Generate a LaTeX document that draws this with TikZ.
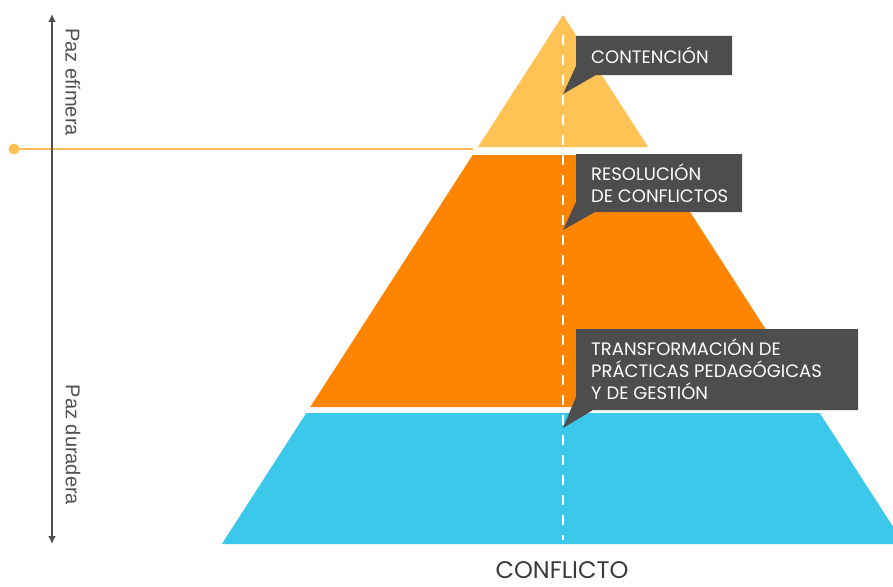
\documentclass[tikz,border=0pt]{standalone}
\usepackage{fontspec}
\setmainfont{Poppins}
\newfontfamily\axisfont{Liberation Sans}
\usetikzlibrary{arrows.meta}
\definecolor{pyrYellow}{HTML}{FFC255}
\definecolor{pyrOrange}{HTML}{FF8500}
\definecolor{pyrBlue}{HTML}{3CC8EB}
\definecolor{boxGray}{HTML}{4D4D4D}
\definecolor{axisGray}{HTML}{505050}
\definecolor{lineOrange}{HTML}{FFBE55}
\definecolor{titleGray}{HTML}{3A3A3A}
\tikzset{
  calloutfill/.style={fill=boxGray},
  callouttext/.style={text=white, font=\fontsize{18}{22}\selectfont, align=left, inner sep=0pt, anchor=west},
  axislabel/.style={text=axisGray, font=\axisfont\fontsize{20}{22}\selectfont, rotate=-90, inner sep=0pt},
  axisline/.style={draw=axisGray, line width=2pt, {Latex[length=8pt,width=8pt]}-{Latex[length=8pt,width=8pt]}},
  centreline/.style={draw=white, line width=2pt, dash pattern=on 10pt off 10pt},
}
\begin{document}
\begin{tikzpicture}[x=1pt,y=-1pt]
\useasboundingbox (0,0) rectangle (893,586);
% pyramid layers
\fill[pyrYellow] (563,15) -- (648.1,147) -- (477.9,147) -- cycle;
\fill[pyrOrange] (472.7,155) -- (653.3,155) -- (815.8,407) -- (310.2,407) -- cycle;
\fill[pyrBlue] (306.3,413) -- (819.7,413) -- (893,526.6) -- (893,544) -- (221.8,544) -- cycle;
% centre dashed line
\coordinate (dtop) at (563,35);
\coordinate (dbot) at (563,540);
\draw[centreline] (dtop) -- (dbot);
% callouts
\fill[calloutfill] (576,36) -- (732,36) -- (732,75) -- (596,75) -- (563,94) -- (576,66) -- cycle;
\node[callouttext] (t1) at (591,55.5) {CONTENCIÓN};
\fill[calloutfill] (576,154) -- (742,154) -- (742,212) -- (595,212) -- (563,230) -- (576,202) -- cycle;
\node[callouttext] (t2) at (591,183) {RESOLUCIÓN\\DE CONFLICTOS};
\fill[calloutfill] (576,329) -- (858,329) -- (858,410) -- (593,410) -- (563,428) -- (576,397) -- cycle;
\node[callouttext] (t3) at (591,369.5) {TRANSFORMACIÓN DE\\PRÁCTICAS PEDAGÓGICAS\\Y DE GESTIÓN};
% threshold line
\fill[lineOrange] (14,149) circle (5.5pt);
\coordinate (dot) at (14,149);
\coordinate (lend) at (473,149);
\draw[lineOrange, line width=1.4pt] (dot) -- (lend);
% axis
\coordinate (atop) at (52,14);
\coordinate (abot) at (52,544);
\draw[axisline] (abot) -- (atop);
\node[axislabel] (l1) at (73,82) {Paz efímera};
\node[axislabel] (l2) at (73,445) {Paz duradera};
% bottom title
\node[text=titleGray, font=\fontsize{24}{28}\selectfont, anchor=base, inner sep=0pt] (ttl) at (562,578) {CONFLICTO};
\end{tikzpicture}
\end{document}
